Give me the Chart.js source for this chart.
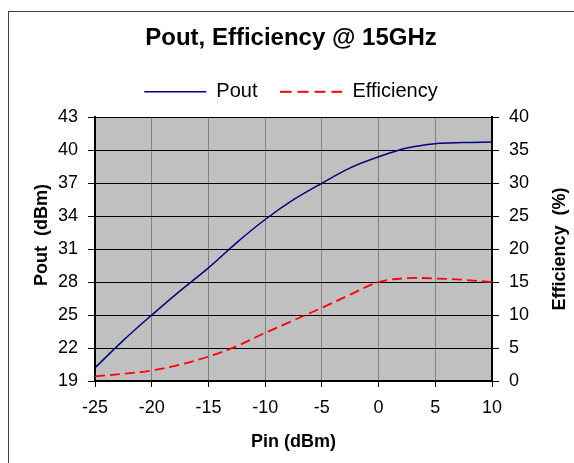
<!DOCTYPE html>
<html>
<head>
<meta charset="utf-8">
<title>Pout, Efficiency @ 15GHz</title>
<script src="https://cdn.jsdelivr.net/npm/chart.js@4.4.0/dist/chart.umd.min.js"></script>
<style>
  body { margin: 0; background: #fff; }
  canvas { display: block; }
</style>
</head>
<body>
<canvas id="chart" width="574" height="463"></canvas>
<script>
// values
const pinValues = [-25, -22.5, -20, -17.5, -15, -12.5, -10, -7.5, -5, -2.5, 0, 2.5, 5, 7.5, 10];
const poutValues = [20.2, 22.7, 25.0, 27.2, 29.3, 31.6, 33.7, 35.5, 37.0, 38.4, 39.4, 40.2, 40.6, 40.7, 40.75];
const effValues = [0.7, 1.1, 1.6, 2.5, 3.7, 5.3, 7.3, 9.2, 11.1, 13.1, 15.0, 15.6, 15.55, 15.35, 15.0];

const FONT = '"Liberation Sans", Arial, sans-serif';
Chart.defaults.font.family = FONT;
Chart.defaults.color = "#000";

// dashed legend sample (the built-in "line" style strokes back over itself)
const dashSample = document.createElement("canvas");
dashSample.width = 62;
dashSample.height = 4;
let dctx = dashSample.getContext("2d");
dctx.strokeStyle = "#FF0000";
dctx.lineWidth = 1.8;
dctx.setLineDash([11, 6]);
dctx.beginPath();
dctx.moveTo(0, 2);
dctx.lineTo(62, 2);
dctx.stroke();

// white page, grey plot area, outer frame and the two side axis titles
const excelLook = {
    id: "excelLook",
    beforeDraw(chart) {
        const c = chart.ctx;
        const a = chart.chartArea;
        c.save();
        c.fillStyle = "#fff";
        c.fillRect(0, 0, chart.width, chart.height);
        c.strokeStyle = "#404040";
        c.lineWidth = 1;
        c.strokeRect(8.5, 11.5, 700, 600);
        c.fillStyle = "#C0C0C0";
        c.fillRect(a.left, a.top, a.right - a.left, a.bottom - a.top);
        c.restore();
    },
    afterDraw(chart) {
        const c = chart.ctx;
        c.save();
        c.fillStyle = "#000";
        c.font = "bold 18px " + FONT;
        c.textAlign = "center";
        c.textBaseline = "middle";
        c.translate(42, 235);
        c.rotate(-Math.PI / 2);
        c.fillText("Pout  (dBm)", 0, 0);
        c.restore();

        c.save();
        c.fillStyle = "#000";
        c.font = "bold 18px " + FONT;
        c.textAlign = "center";
        c.textBaseline = "middle";
        c.translate(560, 249);
        c.rotate(-Math.PI / 2);
        c.fillText("Efficiency  (%)", 0, 0);
        c.restore();
    }
};

let ctx = document.getElementById("chart").getContext("2d");
let chart = new Chart(ctx, {
    type: "line",
    data: {
        datasets: [
            {
                label: "Pout",
                data: pinValues.map((x, i) => ({x: x, y: poutValues[i]})),
                borderColor: "#000080",
                borderWidth: 1.5,
                pointRadius: 0,
                pointStyle: "line",
                tension: 0.35,
                fill: false,
                yAxisID: "y",
            },
            {
                label: "Efficiency",
                data: pinValues.map((x, i) => ({x: x, y: effValues[i]})),
                borderColor: "#FF0000",
                borderWidth: 1.8,
                borderDash: [10, 5],
                pointRadius: 0,
                pointStyle: dashSample,
                tension: 0.35,
                fill: false,
                yAxisID: "y2",
            },
        ],
    },
    options: {
        responsive: false,
        animation: false,
        devicePixelRatio: 1,
        layout: {padding: {left: 8, right: 0, top: 0, bottom: 0}},
        plugins: {
            title: {
                display: true,
                text: "Pout, Efficiency @ 15GHz",
                color: "#000",
                font: {size: 24, weight: "bold"},
                padding: {top: 24, bottom: 6},
            },
            legend: {
                display: true,
                labels: {
                    usePointStyle: true,
                    pointStyleWidth: 62,
                    padding: 23,
                    color: "#000",
                    font: {size: 20},
                },
            },
            tooltip: {enabled: false},
        },
        scales: {
            x: {
                type: "linear",
                min: -25,
                max: 10,
                ticks: {stepSize: 5, font: {size: 18}, padding: 10},
                grid: {color: "#808080", lineWidth: 1, tickColor: "#000", tickLength: 6},
                border: {color: "#000", width: 2},
                title: {display: true, text: "Pin (dBm)", font: {size: 18, weight: "bold"}, padding: {top: 0, bottom: 10}},
                afterFit(s) { s.height = 82; },
            },
            // empty strip between legend and plot
            gap: {
                type: "linear",
                position: "top",
                ticks: {display: false},
                grid: {display: false},
                border: {display: false},
                afterFit(s) { s.height = 5.5; },
            },
            y: {
                position: "left",
                min: 19,
                max: 43,
                ticks: {stepSize: 3, font: {size: 18}, padding: 10},
                grid: {color: "#000", lineWidth: 1, tickColor: "#000", tickLength: 7},
                border: {color: "#000", width: 2},
                afterFit(s) { s.width = 87; },
            },
            y2: {
                position: "right",
                min: 0,
                max: 40,
                ticks: {stepSize: 5, font: {size: 18}, padding: 10},
                grid: {drawOnChartArea: false, tickColor: "#000", tickLength: 7},
                border: {color: "#000", width: 2},
                afterFit(s) { s.width = 82; },
            },
        },
    },
    plugins: [excelLook],
});
</script>
</body>
</html>
